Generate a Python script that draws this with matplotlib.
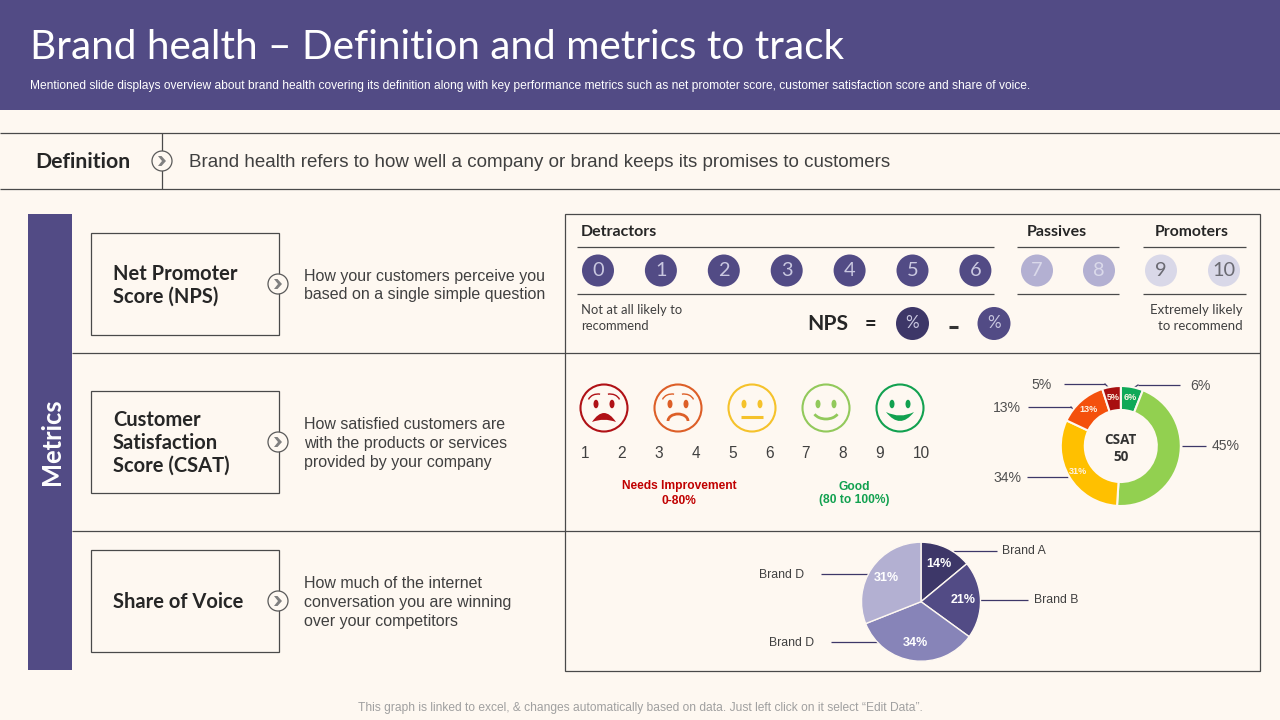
import matplotlib
matplotlib.use("Agg")
import matplotlib.pyplot as plt
from matplotlib.patches import Circle, Ellipse, Rectangle, Arc, Polygon, PathPatch
from matplotlib.path import Path

BG = "#FEF8F1"
PURPLE = "#524B85"
DARK = "#3D3768"
MID = "#8784B8"
LIGHT = "#B3B0D2"
PALE = "#D9D8E8"
LINE = "#4A4A4A"
TEXT = "#404040"

detractors = [0, 1, 2, 3, 4, 5, 6]
passives = [7, 8]
promoters = [9, 10]
scale_labels = ["1", "2", "3", "4", "5", "6", "7", "8", "9", "10"]

csat_values = [6, 45, 31, 13, 5]
csat_inner_labels = ["6%", "", "31%", "13%", "5%"]
csat_outer_labels = ["6%", "45%", "34%", "13%", "5%"]
csat_colors = ["#0FA958", "#92D050", "#FFC000", "#F4500C", "#A80F0F"]

sov_values = [14, 21, 34, 31]
sov_names = ["Brand A", "Brand B", "Brand D", "Brand D"]
sov_colors = [DARK, PURPLE, MID, LIGHT]

fig = plt.figure(figsize=(12.8, 7.2), dpi=100, facecolor=BG)
ax = fig.add_axes([0, 0, 1, 1])
ax.set_xlim(0, 1280)
ax.set_ylim(720, 0)
ax.axis("off")


def px(size):
    return size * 0.72


def hline(x0, x1, y, color=LINE, lw=0.9):
    ax.plot([x0, x1], [y, y], color=color, lw=lw, solid_capstyle="butt")


def vline(x, y0, y1, color=LINE, lw=0.9):
    ax.plot([x, x], [y0, y1], color=color, lw=lw, solid_capstyle="butt")


def label(x, y, s, size, color=TEXT, weight="normal", ha="left", family="Liberation Sans"):
    ax.text(x, y + 1.5, s, fontsize=px(size), color=color, fontweight=weight, ha=ha, va="center",
            family=family, linespacing=1.15)


def chevron(x, y):
    ax.add_patch(Circle((x, y), 10, fc=BG, ec="#5A5A5A", lw=0.9, zorder=4))
    ax.add_patch(Polygon([(x - 4, y - 5), (x - 0.5, y - 5), (x + 4, y), (x - 0.5, y + 5), (x - 4, y + 5), (x, y)],
                         fc="#808080", ec="none", zorder=5))


# header
ax.add_patch(Rectangle((0, 0), 1280, 110, fc=PURPLE, ec="none"))
label(30, 46, "Brand health \u2013 Definition and metrics to track", 40.5, color="white", family="Lato")
label(30, 84, "Mentioned slide displays overview about brand health covering its definition along with key performance "
      "metrics such as net promoter score, customer satisfaction score and share of voice.", 12, color="white")

# definition strip
hline(0, 1280, 133)
hline(0, 1280, 189)
vline(162, 133, 189)
label(35, 161, "Definition", 21.3, color="#262626", weight="bold", family="Lato")
chevron(162, 161)
label(189, 161, "Brand health refers to how well a company or brand keeps its promises to customers", 18.8)

# metrics band
ax.add_patch(Rectangle((28, 214), 44, 456, fc=PURPLE, ec="none"))
ax.text(52, 442, "Metrics", fontsize=px(25.5), color="white", fontweight="bold", rotation=90,
        ha="center", va="center", family="Lato")

# grid
ax.add_patch(Rectangle((565, 214), 695, 456.5, fc="none", ec=LINE, lw=0.9))
hline(72, 1260, 353)
hline(72, 1260, 531)

# left boxes
boxes = [(233, 102, 272, ["Net Promoter", "Score (NPS)"], 284,
          ["How your customers perceive you", "based on a single simple question"]),
         (391, 102, 419, ["Customer", "Satisfaction", "Score (CSAT)"], 442,
          ["How satisfied customers are", "with the products or services", "provided by your company"]),
         (550, 102, 601, ["Share of Voice"], 601,
          ["How much of the internet", "conversation you are winning", "over your competitors"])]
for top, h, y0, heads, cy, descs in boxes:
    ax.add_patch(Rectangle((91, top), 187.5, h, fc="none", ec=LINE, lw=0.9))
    for i, s in enumerate(heads):
        label(113, y0 + i * 22.7, s, 20.2, color="#262626", weight="bold", family="Lato")
    chevron(278, cy)
    y0 = cy - (len(descs) - 1) * 9.5
    for i, s in enumerate(descs):
        label(304, y0 + i * 19, s, 16)

# NPS row
label(581, 230, "Detractors", 16, color="#262626", weight="bold", family="Lato")
label(1027, 230, "Passives", 16, color="#262626", weight="bold", family="Lato")
label(1155, 230, "Promoters", 15.7, color="#262626", weight="bold", family="Lato")
for x0, x1 in [(577, 994), (1017, 1119), (1143, 1246)]:
    hline(x0, x1, 247)
    hline(x0, x1, 294)


def score_row(nums, xs, fc, tc):
    for n, x in zip(nums, xs):
        ax.add_patch(Ellipse((x, 270.5), 32, 32, fc=fc, ec="none"))
        label(x, 269.5, str(n), 20, color=tc, ha="center", family="Lato")


score_row(detractors, [598 + i * 62.9 for i in range(7)], PURPLE, "#C9C7E0")
score_row(passives, [1037, 1099], LIGHT, "#DAD9EA")
score_row(promoters, [1161, 1224], PALE, "#6A6A72")

label(581, 309, "Not at all likely to", 13, family="Lato")
label(581, 325, "recommend", 13, family="Lato")
label(1243, 309, "Extremely likely", 13.2, ha="right", family="Lato")
label(1243, 325, "to recommend", 13.2, ha="right", family="Lato")
label(807, 323, "NPS", 21, color="#262626", weight="bold", family="Lato")
label(870, 323, "=", 20, color="#262626", weight="bold", ha="center", family="Lato")
ax.add_patch(Ellipse((912.5, 323.5), 33, 33, fc=DARK, ec="none"))
label(912.5, 322, "%", 17, color="#C9C7E0", ha="center", family="Lato")
ax.add_patch(Ellipse((994, 323.5), 33, 33, fc=PURPLE, ec="none"))
label(994, 322, "%", 17, color="#C9C7E0", ha="center", family="Lato")
hline(949, 958, 327, color="#333333", lw=2.2)


# smileys
def face(cx, color, kind):
    cy = 408
    ax.add_patch(Circle((cx, cy), 23.5, fc="none", ec=color, lw=1.5))
    ey = cy - 4
    for dx in (-8, 8):
        ax.add_patch(Ellipse((cx + dx, ey), 5, 8.5, fc=color, ec="none"))
    if kind == "angry":
        path = Path([(cx - 12, cy + 14), (cx - 6, cy + 5), (cx, cy + 5), (cx + 6, cy + 5), (cx + 12, cy + 14),
                     (cx, cy + 9.5), (cx - 12, cy + 14)],
                    [Path.MOVETO, Path.CURVE3, Path.CURVE3, Path.CURVE3, Path.CURVE3, Path.CURVE3, Path.CURVE3])
        ax.add_patch(PathPatch(path, fc=color, ec="none"))
    if kind == "sad":
        ax.add_patch(Arc((cx, cy + 13), 20, 14, theta1=180, theta2=360, ec=color, lw=2))
    if kind == "flat":
        hline(cx - 11, cx + 11, cy + 8.5, color=color, lw=2.2)
    if kind == "smile":
        ax.add_patch(Arc((cx, cy + 2), 26, 18, theta1=20, theta2=160, ec=color, lw=2))
    if kind == "smile2":
        path = Path([(cx - 14, cy + 4), (cx, cy + 11), (cx + 14, cy + 4), (cx, cy + 22), (cx - 14, cy + 4)],
                    [Path.MOVETO, Path.CURVE3, Path.CURVE3, Path.CURVE3, Path.CURVE3])
        ax.add_patch(PathPatch(path, fc=color, ec="none"))
    if kind in ("angry", "sad"):
        ax.add_patch(Arc((cx - 6, cy - 6), 20, 16, theta1=195, theta2=285, ec=color, lw=1))
        ax.add_patch(Arc((cx + 6, cy - 6), 20, 16, theta1=255, theta2=345, ec=color, lw=1))


for cx, color, kind in [(604, "#B01116", "angry"), (678, "#DD5F28", "sad"), (752, "#F5C22B", "flat"),
                        (826, "#92C95B", "smile"), (900, "#12A150", "smile2")]:
    face(cx, color, kind)

for x, s in zip([585, 622, 659, 696, 733, 770, 806, 843, 880, 921], scale_labels):
    label(x, 451.5, s, 15.5, ha="center")

label(679, 485, "Needs Improvement", 12, color="#C00000", weight="bold", ha="center")
label(679, 499, "0-80%", 12, color="#C00000", weight="bold", ha="center")
label(854, 485, "Good", 12, color="#12A150", weight="bold", ha="center")
label(854, 499, "(80 to 100%)", 12, color="#12A150", weight="bold", ha="center")


# pies go in their own axes, sized in pixels
def pie_axes(cx, cy, r):
    return fig.add_axes([(cx - r) / 1280, 1 - (cy + r) / 720, 2 * r / 1280, 2 * r / 720])


def fit_pie(a):
    a.set_xlim(-1, 1)
    a.set_ylim(-1, 1)
    a.axis("off")


donut_ax = pie_axes(1120.8, 446, 60)
donut_ax.pie(csat_values, colors=csat_colors, startangle=90, counterclock=False, radius=1,
             wedgeprops=dict(width=0.4, edgecolor=BG, linewidth=1.5),
             labels=csat_inner_labels, labeldistance=0.82,
             textprops=dict(color="#FDF3E3", fontsize=px(9), fontweight="bold", ha="center", va="center",
                            family="Liberation Sans"))
fit_pie(donut_ax)
label(1120.8, 439, "CSAT", 13.5, color="#333333", weight="bold", ha="center", family="Open Sans")
label(1120.8, 455.5, "50", 13.5, color="#333333", weight="bold", ha="center", family="Open Sans")

# outer donut labels with their leader lines
for s, tx, ty, ha, x0, x1, tail in zip(csat_outer_labels,
                                       [1190, 1212, 1021, 1021, 1052],
                                       [384.5, 445, 476, 406.5, 383.5],
                                       ["left", "left", "right", "right", "right"],
                                       [1138, 1182, 1027, 1028, 1064],
                                       [1180, 1206, 1068, 1071, 1105],
                                       [(1135, 387), None, None, (1073, 409), (1108, 387)]):
    label(tx, ty, s, 14, ha=ha, color="#505050")
    y = ty + 0.5
    hline(x0, x1, y, color=DARK, lw=0.9)
    if tail:
        near = x0 if tail[0] < x0 else x1
        ax.plot([near, tail[0]], [y, tail[1]], color=DARK, lw=0.9)

sov_ax = pie_axes(921, 601.7, 59.5)
sov_ax.pie(sov_values, colors=sov_colors, startangle=90, counterclock=False, radius=1,
           wedgeprops=dict(edgecolor=BG, linewidth=1),
           autopct="%d%%", pctdistance=0.7,
           textprops=dict(color="white", fontsize=px(12.5), fontweight="bold", family="Liberation Sans"))
fit_pie(sov_ax)

for s, tx, y, ha, x0, x1 in zip(sov_names, [1002, 1034, 804, 814], [550.5, 599.5, 574, 642],
                                ["left", "left", "right", "right"],
                                [953, 980, 821, 831], [997, 1028, 870, 878]):
    label(tx, y - 1, s, 12.3, ha=ha)
    hline(x0, x1, y, color=DARK, lw=0.9)

# footnote
label(640, 707, "This graph is linked to excel, & changes automatically based on data. Just left click on it select \u201cEdit Data\u201d.",
      12, color="#A0A0A0", ha="center")

fig.savefig("out.png", dpi=100, facecolor=BG)
